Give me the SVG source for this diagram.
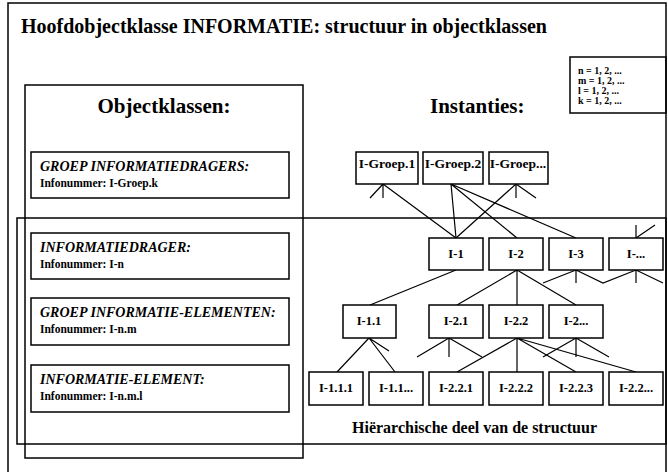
<svg xmlns="http://www.w3.org/2000/svg" width="668" height="472" viewBox="0 0 668 472">
<style>
.frame{fill:none;stroke:#000;stroke-width:1.5}
.box{fill:#fff;stroke:#000;stroke-width:1.5}
.ln{fill:none;stroke:#000;stroke-width:1.2}
text{font-family:"Liberation Serif","Times New Roman",serif;font-weight:bold;fill:#000}
.title{font-size:20px}
.head{font-size:21px}
.ct{font-size:14px;font-style:italic}
.cs{font-size:11.5px}
.lg{font-size:10px}
.lab{font-size:12.5px;text-anchor:middle}
.glab{font-size:13.5px;text-anchor:middle}
.foot{font-size:16px}
</style>
<rect width="668" height="472" fill="#fff"/>
<rect class="frame" x="8" y="3" width="658" height="480"/>
<text class="title" x="21" y="33">Hoofdobjectklasse INFORMATIE: structuur in objectklassen</text>
<g id="legend">
<rect class="frame" x="570" y="57" width="96" height="56"/>
<text class="lg" x="578" y="74">n = 1, 2, ...</text>
<text class="lg" x="578" y="84">m = 1, 2, ...</text>
<text class="lg" x="578" y="94">l = 1, 2, ...</text>
<text class="lg" x="578" y="104">k = 1, 2, ...</text>
</g>
<g id="objectklassen-frame">
<rect class="frame" x="25" y="85" width="278" height="373"/>
<text class="head" x="164" y="113" text-anchor="middle">Objectklassen:</text>
</g>
<g id="hierarchie-frame">
<rect class="frame" x="17" y="218" width="649" height="226"/>
<text class="foot" x="352" y="433">Hiërarchische deel van de structuur</text>
</g>
<text class="head" x="430" y="113">Instanties:</text>
<g id="klasse-groep-informatiedragers">
<rect class="box" x="31" y="152" width="258" height="46"/>
<text class="ct" x="40" y="171">GROEP INFORMATIEDRAGERS:</text>
<text class="cs" x="40" y="187">Infonummer: I-Groep.k</text>
</g>
<g id="klasse-informatiedrager">
<rect class="box" x="31" y="233" width="258" height="46"/>
<text class="ct" x="40" y="252">INFORMATIEDRAGER:</text>
<text class="cs" x="40" y="268">Infonummer: I-n</text>
</g>
<g id="klasse-groep-informatie-elementen">
<rect class="box" x="31" y="298" width="258" height="47"/>
<text class="ct" x="40" y="317">GROEP INFORMATIE-ELEMENTEN:</text>
<text class="cs" x="40" y="333">Infonummer: I-n.m</text>
</g>
<g id="klasse-informatie-element">
<rect class="box" x="31" y="365" width="258" height="47"/>
<text class="ct" x="40" y="384">INFORMATIE-ELEMENT:</text>
<text class="cs" x="40" y="400">Infonummer: I-n.m.l</text>
</g>
<g id="connectors">
<path class="ln" d="M383,184 L370,198 M383,184 L383,198 M383,184 L456,238"/>
<path class="ln" d="M451,184 L456,238 M451,184 L517,238 M451,184 L576,238"/>
<path class="ln" d="M516,184 L456,238 M516,184 L516,198 M516,184 L536,198"/>
<path class="ln" d="M636,238 L636,225 M636,238 L655,225"/>
<path class="ln" d="M456,270 L370,305"/>
<path class="ln" d="M517,270 L457,305 M517,270 L517,305 M517,270 L576,305"/>
<path class="ln" d="M576,270 L543,283 M576,270 L576,283 M576,270 L603,283 L636,270 M636,270 L636,283 M636,270 L663,283"/>
<path class="ln" d="M369,338 L337,372 M369,338 L395,372 M369,338 L389,351"/>
<path class="ln" d="M449,338 L417,357 M449,338 L449,357 M449,338 L482,357"/>
<path class="ln" d="M517,338 L457,372 M517,338 L517,372 M517,338 L576,372 M517,338 L636,372"/>
<path class="ln" d="M576,338 L543,357 M576,338 L576,357 M576,338 L609,357"/>
</g>
<g id="i-groep-1"><rect class="box" x="356" y="152" width="62" height="32"/><text class="glab" x="387" y="168">I-Groep.1</text></g>
<g id="i-groep-2"><rect class="box" x="423" y="152" width="60" height="32"/><text class="glab" x="453" y="168">I-Groep.2</text></g>
<g id="i-groep-x"><rect class="box" x="489" y="152" width="59" height="32"/><text class="glab" x="518" y="168">I-Groep...</text></g>
<g id="i-1"><rect class="box" x="429" y="238" width="54" height="32"/><text class="lab" x="456" y="258">I-1</text></g>
<g id="i-2"><rect class="box" x="489" y="238" width="54" height="32"/><text class="lab" x="516" y="258">I-2</text></g>
<g id="i-3"><rect class="box" x="549" y="238" width="54" height="32"/><text class="lab" x="576" y="258">I-3</text></g>
<g id="i-x"><rect class="box" x="609" y="238" width="54" height="32"/><text class="lab" x="636" y="258">I-...</text></g>
<g id="i-1-1"><rect class="box" x="343" y="305" width="53" height="33"/><text class="lab" x="369" y="325">I-1.1</text></g>
<g id="i-2-1"><rect class="box" x="429" y="305" width="54" height="33"/><text class="lab" x="456" y="325">I-2.1</text></g>
<g id="i-2-2"><rect class="box" x="489" y="305" width="54" height="33"/><text class="lab" x="516" y="325">I-2.2</text></g>
<g id="i-2-x"><rect class="box" x="549" y="305" width="54" height="33"/><text class="lab" x="576" y="325">I-2...</text></g>
<g id="i-1-1-1"><rect class="box" x="309" y="372" width="54" height="33"/><text class="lab" x="336" y="392">I-1.1.1</text></g>
<g id="i-1-1-x"><rect class="box" x="369" y="372" width="54" height="33"/><text class="lab" x="396" y="392">I-1.1...</text></g>
<g id="i-2-2-1"><rect class="box" x="429" y="372" width="54" height="33"/><text class="lab" x="456" y="392">I-2.2.1</text></g>
<g id="i-2-2-2"><rect class="box" x="489" y="372" width="54" height="33"/><text class="lab" x="516" y="392">I-2.2.2</text></g>
<g id="i-2-2-3"><rect class="box" x="549" y="372" width="54" height="33"/><text class="lab" x="576" y="392">I-2.2.3</text></g>
<g id="i-2-2-x"><rect class="box" x="609" y="372" width="54" height="33"/><text class="lab" x="636" y="392">I-2.2...</text></g>
</svg>
